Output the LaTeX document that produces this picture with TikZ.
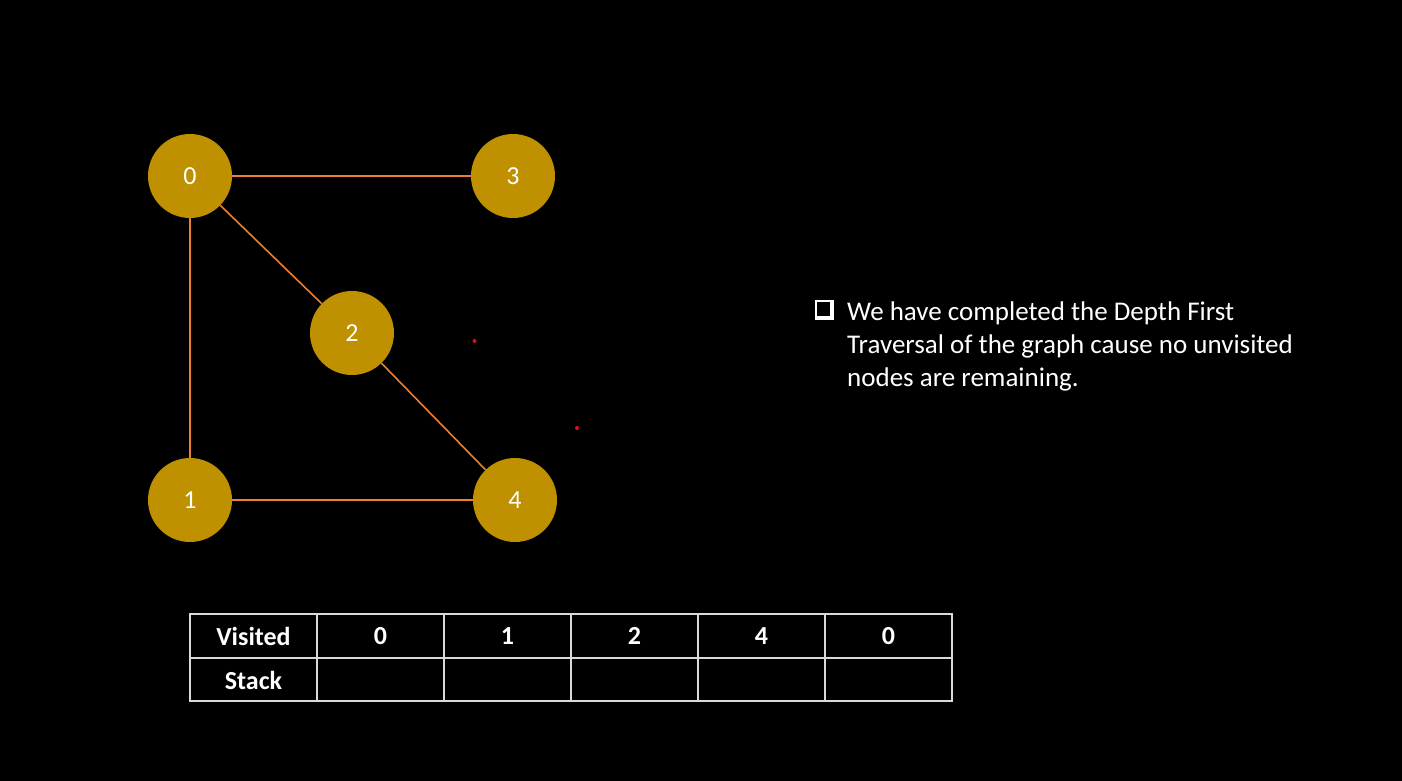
\documentclass[tikz,border=0pt]{standalone}
\usepackage{fontspec}
\setmainfont{Carlito}
\definecolor{gold}{HTML}{BF9000}
\definecolor{edgeorange}{HTML}{ED7D31}
\definecolor{gridline}{HTML}{D9D9D9}
\definecolor{dotred}{HTML}{E01010}
\begin{document}
\begin{tikzpicture}[x=1pt,y=-1pt,
  vertex/.style={circle,fill=gold,draw=none,minimum size=84pt,inner sep=0pt,
    text=white,font=\fontsize{26}{30}\selectfont},
  edge/.style={draw=edgeorange,line width=1.6pt},
  cell/.style={text=white,font=\bfseries\fontsize{26}{30}\selectfont,inner sep=0pt},
  note/.style={text=white,anchor=base west,inner sep=0pt,font=\fontsize{27}{33}\selectfont}]
  % background
  \fill[black] (0,0) rectangle (1402,781);
  \useasboundingbox (0,0) rectangle (1402,781);

  % graph
  \node[vertex] (v0) at (190,176) {0};
  \node[vertex] (v3) at (513,176) {3};
  \node[vertex] (v2) at (352,333) {2};
  \node[vertex] (v1) at (190,500) {1};
  \node[vertex] (v4) at (515,500) {4};
  \draw[edge] (v0) -- (v3);
  \draw[edge] (v0) -- (v2);
  \draw[edge] (v0) -- (v1);
  \draw[edge] (v2) -- (v4);
  \draw[edge] (v1) -- (v4);

  % stray red dots
  \fill[dotred] (474.5,341) circle (2);
  \fill[dotred] (577,428) circle (2);

  % bullet: shadowed hollow square
  \fill[white] (815,300) rectangle (834,320);
  \fill[black] (816.8,301.8) rectangle (830.2,316.2);
  \draw[white,line width=1.6pt] (815.8,300.8) rectangle (831,317);

  % note text
  \node[note] (t1) at (847,320.5) {We have completed the Depth First};
  \node[note] (t2) at (847,353.5) {Traversal of the graph cause no unvisited};
  \node[note] (t3) at (847,386.5) {nodes are remaining.};

  % table grid
  \draw[gridline,line width=1.4pt] (190,614) rectangle (952,701);
  \draw[gridline,line width=1.4pt] (190,658) -- (952,658);
  \foreach \x in {317,444,571,698,825}
    \draw[gridline,line width=1.4pt] (\x,614) -- (\x,701);

  % table contents
  \node[cell] (hv) at (253.5,636) {Visited};
  \node[cell] (hs) at (253.5,680) {Stack};
  \node[cell] (c1) at (380.5,636) {0};
  \node[cell] (c2) at (507.5,636) {1};
  \node[cell] (c3) at (634.5,636) {2};
  \node[cell] (c4) at (761.5,636) {4};
  \node[cell] (c5) at (888.5,636) {0};
\end{tikzpicture}
\end{document}
